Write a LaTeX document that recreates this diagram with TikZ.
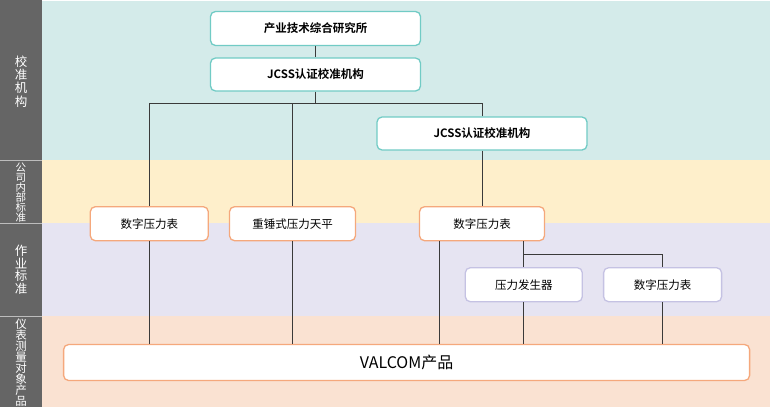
\documentclass[tikz,border=0pt]{standalone}
\usepackage{fontspec}
\setmainfont{Noto Sans CJK SC}[BoldFont={Noto Sans CJK SC Bold}]
\definecolor{bandteal}{HTML}{D4EBEA}
\definecolor{bandyel}{HTML}{FEEFCB}
\definecolor{bandlav}{HTML}{E6E4F2}
\definecolor{bandpea}{HTML}{FAE2D2}
\definecolor{sidec}{HTML}{656565}
\definecolor{sepc}{HTML}{BDBDBD}
\definecolor{tealb}{HTML}{71CBC5}
\definecolor{orab}{HTML}{F5A87C}
\definecolor{lavb}{HTML}{C5C2E3}
\definecolor{linec}{HTML}{3A3A3A}
\begin{document}
\begin{tikzpicture}[x=1pt,y=-1pt,
  conn/.style={draw=linec, line width=0.9pt},
  box/.style={draw, fill=white, rounded corners=5pt, line width=1.3pt,
    font=\fontsize{11.5}{12}\selectfont, inner sep=0pt, text=black, minimum height=34pt},
  tealbox/.style={box, draw=tealb, font=\fontsize{11.5}{12}\selectfont\bfseries},
  orabox/.style={box, draw=orab},
  lavbox/.style={box, draw=lavb},
  sidetext/.style={text=white, align=center, inner sep=0pt}
]
\useasboundingbox (0,0) rectangle (770,407);
% bands
\fill[bandteal] (42,1) rectangle (770,160);
\fill[bandyel] (42,160) rectangle (770,223.3);
\fill[bandlav] (42,223.3) rectangle (770,316);
\fill[bandpea] (42,316) rectangle (770,407);
% sidebar
\fill[sidec] (0,0) rectangle (42,407);
\draw[sepc, line width=1pt] (0,160) -- (42,160);
\draw[sepc, line width=1pt] (0,223.3) -- (42,223.3);
\draw[sepc, line width=1pt] (0,316) -- (42,316);
\node[sidetext, font=\fontsize{12.5}{13.3}\selectfont] (s1) at (21,81.5) {校\\准\\机\\构};
\node[sidetext, font=\fontsize{10.5}{10}\selectfont] (s2) at (21,192.5) {公\\司\\内\\部\\标\\准};
\node[sidetext, font=\fontsize{12.5}{12.5}\selectfont] (s3) at (21,270) {作\\业\\标\\准};
\node[sidetext, font=\fontsize{11.5}{11.1}\selectfont] (s4) at (21,362.5) {仪\\表\\测\\量\\对\\象\\产\\品};
% boxes
\node[tealbox, minimum width=210pt] (b1) at (315.5,28.5) {产业技术综合研究所};
\node[tealbox, minimum width=210pt, minimum height=33pt] (b2) at (315.5,74.5) {JCSS认证校准机构};
\node[tealbox, minimum width=210pt, minimum height=33pt] (b3) at (482,133.5) {JCSS认证校准机构};
\node[orabox, minimum width=118pt] (A) at (149.3,223.7) {数字压力表};
\node[orabox, minimum width=126pt] (B) at (292.5,223.7) {重锤式压力天平};
\node[orabox, minimum width=125pt] (C) at (482,223.7) {数字压力表};
\node[lavbox, minimum width=117pt] (D) at (523.8,284.7) {压力发生器};
\node[lavbox, minimum width=118pt] (E) at (662.6,284.7) {数字压力表};
\node[orabox, minimum width=686pt, minimum height=36pt, font=\fontsize{16}{17}\selectfont] (V) at (406.6,362.5) {VALCOM产品};
% connectors
\coordinate (j1) at (315.5,103);
\coordinate (j2) at (523.8,254.3);
\draw[conn] (b1.south) -- (b2.north);
\draw[conn] (b2.south) -- (j1);
\draw[conn] (A.north) |- (j1);
\draw[conn] (b3.north) |- (j1);
\draw[conn] (B.north) -- (B.north |- j1);
\draw[conn] (b3.south) -- (C.north);
\draw[conn] (A.south) -- (A.south |- V.north);
\draw[conn] (B.south) -- (B.south |- V.north);
\draw[conn] ([xshift=-42.6pt]C.south) -- ([xshift=-42.6pt]C.south |- V.north);
\draw[conn] (C.south -| D.north) -- (D.north);
\draw[conn] (j2) -| (E.north);
\draw[conn] (D.south) -- (D.south |- V.north);
\draw[conn] (E.south) -- (E.south |- V.north);
\end{tikzpicture}
\end{document}
